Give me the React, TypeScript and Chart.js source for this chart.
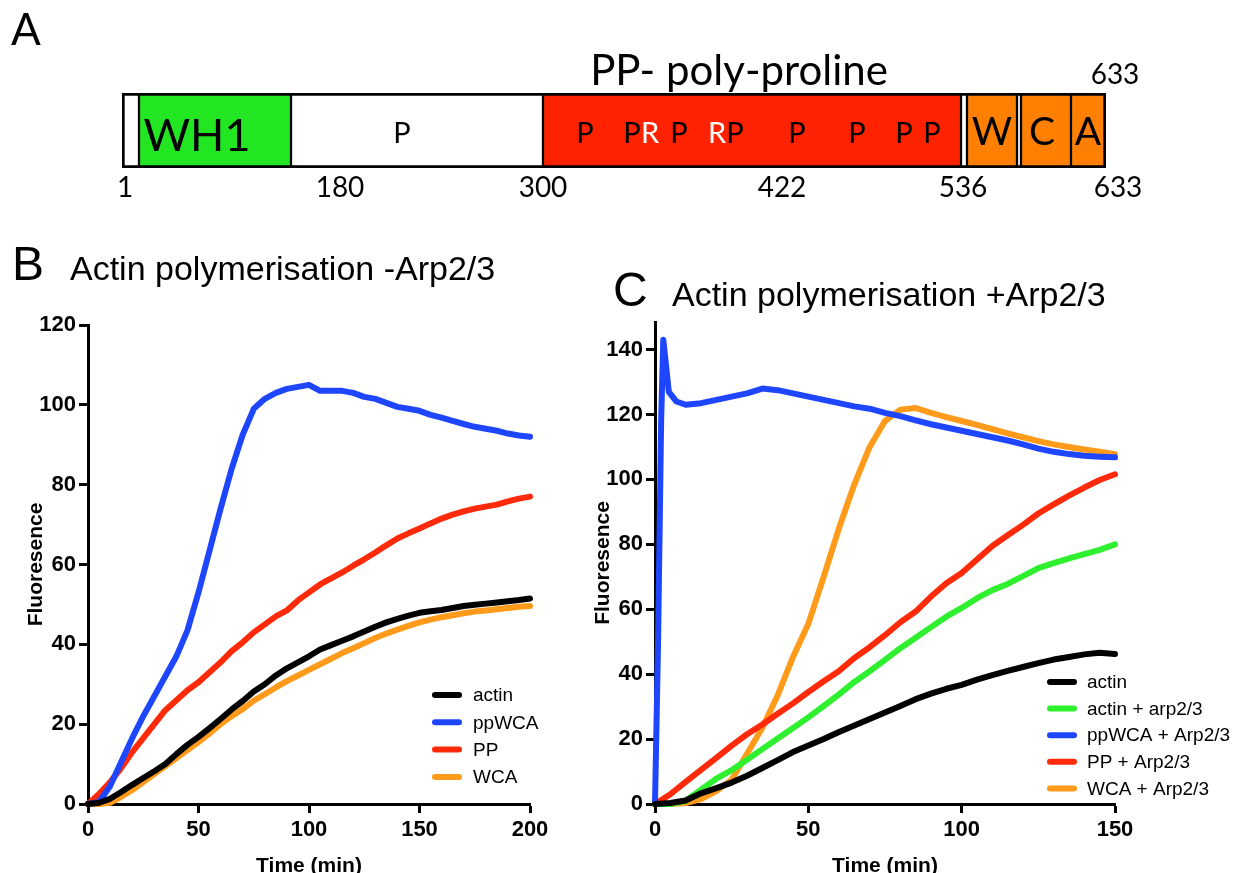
import React, { useEffect, useRef } from "react";
import { Chart, registerables } from "chart.js";
Chart.register(...registerables);

// ---------------- Panel A: domain schematic (schematic units along the bar) ----------------
const domainStart = [0, 17, 169, 421, 839, 845, 895, 899, 949];
const domainEnd = [17, 169, 421, 839, 845, 895, 899, 949, 984];
const domainFill = ["#ffffff", "#22e622", "#ffffff", "#ff2200", "#ffffff", "#ff8000", "#ffffff", "#ff8000", "#ff8000"];
const domainNames = ["WH1", "W", "C", "A"];
const domainNamePos = [75, 870, 920, 966];
const motifLetters = ["P", "P", "P", "R", "P", "R", "P", "P", "P", "P", "P"];
const motifPos = [280, 463, 510, 528, 557, 595, 613, 675, 735, 782, 810];
const residueLabels = ["1", "180", "300", "422", "536", "633"];
const residuePos = [3, 218, 421, 660, 841, 996];
const regionTitle = "PP- poly-proline";
const regionTitlePos = 617;
const endLabel = "633";
const endLabelPos = 993;

// ---------------- Panel B: Actin polymerisation -Arp2/3 ----------------
const timeB = [0, 5, 10, 15, 20, 25, 30, 35, 40, 45, 50, 55, 60, 65, 70, 75, 80, 85, 90, 95, 100, 105, 110, 115, 120, 125, 130, 135, 140, 145, 150, 155, 160, 165, 170, 175, 180, 185, 190, 195, 200];
const actinB = [0, 0.3, 1.3, 3, 4.8, 6.5, 8.2, 10, 12.5, 14.8, 16.8, 19, 21.3, 23.7, 25.8, 28.2, 30, 32.2, 34, 35.5, 37, 38.7, 39.8, 40.9, 42, 43.2, 44.4, 45.5, 46.4, 47.2, 47.9, 48.3, 48.6, 49.1, 49.6, 49.9, 50.2, 50.5, 50.8, 51.1, 51.5];
const ppWCAB = [0, 0.5, 4.5, 10.5, 16.5, 22, 27, 32, 37, 43.5, 53, 63.5, 74, 84, 92.5, 99, 101.5, 103, 104, 104.5, 105, 103.5, 103.5, 103.5, 103, 102, 101.5, 100.5, 99.5, 99, 98.5, 97.5, 96.8, 96, 95.2, 94.5, 94, 93.5, 92.8, 92.3, 92];
const ppB = [0, 2.5, 5.5, 9, 13, 16.5, 20, 23.5, 26, 28.5, 30.5, 33, 35.5, 38.3, 40.5, 43, 45, 47, 48.5, 51, 53, 55, 56.5, 58, 59.7, 61.3, 63, 64.8, 66.5, 67.8, 69, 70.3, 71.5, 72.5, 73.3, 74, 74.5, 75, 75.8, 76.5, 77];
const wcaB = [0, 0, 0.3, 1.8, 3.5, 5.5, 7.5, 9.5, 11.5, 13.5, 15.5, 17.7, 20, 22, 23.8, 25.9, 27.5, 29.2, 30.8, 32.2, 33.6, 35, 36.4, 37.8, 39, 40.3, 41.6, 42.7, 43.7, 44.6, 45.5, 46.2, 46.8, 47.3, 47.8, 48.2, 48.5, 48.8, 49.1, 49.4, 49.6];
const namesB = ["actin", "ppWCA", "PP", "WCA"];

// ---------------- Panel C: Actin polymerisation +Arp2/3 ----------------
const timeC = [0, 5, 10, 15, 20, 25, 30, 35, 40, 45, 50, 55, 60, 65, 70, 75, 80, 85, 90, 95, 100, 105, 110, 115, 120, 125, 130, 135, 140, 145, 150];
const actinC = [0, 0.3, 1.1, 3.3, 4.9, 6.6, 8.7, 11.1, 13.5, 16, 18, 20, 22.2, 24.2, 26.2, 28.2, 30.2, 32.3, 34, 35.5, 36.7, 38.3, 39.7, 41, 42.2, 43.4, 44.5, 45.3, 46.1, 46.6, 46.2];
const actinArpC = [0, 0, 1, 4.4, 7.8, 10.4, 13.6, 16.9, 20.2, 23.4, 26.7, 30.2, 33.8, 37.6, 40.9, 44.4, 48, 51.2, 54.5, 57.7, 60.4, 63.4, 65.9, 67.8, 70.2, 72.7, 74.2, 75.7, 77, 78.3, 80];
const timeBlueC = [0, 1, 2, 2.7, 3.5, 4.5, 7, 10, 15, 20, 25, 30, 35, 40, 45, 50, 55, 60, 65, 70, 75, 80, 85, 90, 95, 100, 105, 110, 115, 120, 125, 130, 135, 140, 145, 150];
const ppWCAArpC = [0, 50, 118, 143, 136, 127, 124, 123, 123.5, 124.5, 125.5, 126.5, 128, 127.5, 126.5, 125.5, 124.5, 123.5, 122.5, 121.8, 120.5, 119.5, 118.2, 117, 116, 115, 114, 113, 112, 110.8, 109.5, 108.5, 107.8, 107.3, 107, 106.8];
const ppArpC = [0, 3, 6.8, 10.5, 14.2, 18, 21.5, 24.5, 27.8, 31, 34.5, 37.8, 41, 45, 48.3, 52, 56, 59.3, 63.9, 68, 71.2, 75.3, 79.5, 82.8, 86, 89.5, 92.3, 95, 97.5, 99.8, 101.6];
const wcaArpC = [0, 0, 0.3, 1.5, 4, 7.5, 15.5, 23.5, 33.5, 45.3, 55.5, 70, 85, 98.5, 110, 118, 121.5, 122, 120.5, 119.2, 118, 116.8, 115.5, 114.2, 113, 111.8, 110.8, 110, 109.2, 108.5, 107.8];
const namesC = ["actin", "actin + arp2/3", "ppWCA + Arp2/3", "PP + Arp2/3", "WCA + Arp2/3"];

const BLACK = "#000000";
const BLUE = "#1e46ff";
const RED = "#ff2a0a";
const ORANGE = "#ff9a1a";
const GREEN = "#2ef02e";

const ARIAL = "'Liberation Sans', Arial, sans-serif";
const CAL = "Lato, 'Open Sans', sans-serif";

const pts = (xs: number[], ys: number[]) => xs.map((x, i) => ({ x, y: ys[i] }));

function lineDs(label: string, data: any[], color: string) {
  return {
    label,
    data,
    borderColor: color,
    backgroundColor: color,
    borderWidth: 6,
    pointRadius: 0,
    tension: 0,
    borderJoinStyle: "round",
    borderCapStyle: "round",
    clip: false,
    fill: false,
  };
}

function legendPlugin(names: string[], colors: string[], dx: number, dyFirst: number, spacing: number, textGap: number) {
  return {
    id: "customLegend",
    afterDraw(chart: any) {
      const { ctx, chartArea } = chart;
      ctx.save();
      ctx.font = `19px ${ARIAL}`;
      ctx.textBaseline = "middle";
      ctx.textAlign = "left";
      names.forEach((n, i) => {
        const y = chartArea.bottom - dyFirst + i * spacing;
        const x = chartArea.right - dx;
        ctx.strokeStyle = colors[i];
        ctx.lineWidth = 6;
        ctx.lineCap = "round";
        ctx.beginPath();
        ctx.moveTo(x + 3, y);
        ctx.lineTo(x + 27, y);
        ctx.stroke();
        ctx.fillStyle = "#000";
        ctx.fillText(n, x + textGap, y + 1);
      });
      ctx.restore();
    },
  };
}

function headerPlugin(letter: string, title: string, letterX: number, titleX: number, baseY: number) {
  return {
    id: "panelHeader",
    afterDraw(chart: any) {
      const { ctx } = chart;
      ctx.save();
      ctx.fillStyle = "#000";
      ctx.textBaseline = "alphabetic";
      ctx.textAlign = "left";
      ctx.font = `48px ${ARIAL}`;
      ctx.fillText(letter, letterX, baseY);
      ctx.font = `34px ${ARIAL}`;
      ctx.fillText(title, titleX, baseY);
      ctx.restore();
    },
  };
}

function lineOptions(xMax: number, yMax: number, yWidth: number, padTop: number, padRight: number, yTitlePad: number) {
  const tickFont = { family: ARIAL, size: 22, weight: "bold" as const };
  const titleFont = { family: ARIAL, size: 21, weight: "bold" as const };
  const grid = { drawOnChartArea: false, drawTicks: true, tickLength: 9, tickWidth: 3, tickColor: "#000" };
  const border = { display: true, color: "#000", width: 3 };
  return {
    responsive: false,
    animation: false as const,
    devicePixelRatio: 1,
    layout: { padding: { top: padTop, right: padRight, left: 0, bottom: 0 } },
    plugins: { legend: { display: false }, tooltip: { enabled: false } },
    scales: {
      x: {
        type: "linear" as const,
        min: 0,
        max: xMax,
        ticks: { stepSize: 50, color: "#000", font: tickFont, padding: 4, maxRotation: 0 },
        grid,
        border,
        title: { display: true, text: "Time (min)", color: "#000", font: titleFont, padding: { top: 0, bottom: 11 } },
        afterFit: (s: any) => {
          s.height = 86;
        },
      },
      y: {
        type: "linear" as const,
        min: 0,
        max: yMax,
        ticks: { stepSize: 20, includeBounds: false, color: "#000", font: tickFont, padding: 3 },
        grid,
        border,
        title: { display: true, text: "Fluoresence", color: "#000", font: titleFont, padding: { top: yTitlePad, bottom: 0 } },
        afterFit: (s: any) => {
          s.width = yWidth;
        },
      },
    },
  };
}

const domainTextPlugin = {
  id: "domainText",
  afterDatasetsDraw(chart: any) {
    const { ctx, chartArea, scales } = chart;
    const px = (v: number) => scales.x.getPixelForValue(v);
    const top = chartArea.top;
    const bottom = chartArea.bottom;
    ctx.save();
    ctx.textAlign = "center";
    ctx.textBaseline = "alphabetic";
    ctx.fillStyle = "#000";
    domainNames.forEach((n, i) => {
      const big = n.length > 1;
      ctx.font = `${big ? 45 : 39}px ${CAL}`;
      ctx.fillText(n, px(domainNamePos[i]), top + (big ? 58 : 52));
    });
    ctx.font = `29px ${CAL}`;
    motifLetters.forEach((m, i) => {
      ctx.fillStyle = m === "R" ? "#ffffff" : "#000";
      ctx.fillText(m, px(motifPos[i]), top + 50);
    });
    ctx.fillStyle = "#000";
    ctx.font = `28px ${CAL}`;
    residueLabels.forEach((r, i) => {
      ctx.fillText(r, px(residuePos[i]), bottom + 29);
    });
    ctx.fillText(endLabel, px(endLabelPos), top - 9);
    ctx.font = `42px ${CAL}`;
    ctx.fillText(regionTitle, px(regionTitlePos), top - 8);
    ctx.textAlign = "left";
    ctx.font = `44px ${CAL}`;
    ctx.fillText("A", 11, 45);
    ctx.restore();
  },
};

export default function App() {
  const refA = useRef<HTMLCanvasElement>(null);
  const refB = useRef<HTMLCanvasElement>(null);
  const refC = useRef<HTMLCanvasElement>(null);

  useEffect(() => {
    const last = domainStart.length - 1;
    const chartA = new Chart(refA.current as HTMLCanvasElement, {
      type: "bar",
      data: {
        labels: ["WASP"],
        datasets: domainStart.map((s, i) => ({
          data: [[s, domainEnd[i]]],
          backgroundColor: domainFill[i],
          borderColor: "#000",
          borderWidth: { top: 3, bottom: 3, left: i === 0 ? 3 : 1.5, right: i === last ? 3 : 1.5 },
          borderSkipped: false,
          barPercentage: 1,
          categoryPercentage: 1,
          grouped: false,
        })) as any,
      },
      options: {
        indexAxis: "y",
        responsive: false,
        animation: false,
        devicePixelRatio: 1,
        layout: { padding: { left: 122, right: 137, top: 93, bottom: 42 } },
        scales: {
          x: { type: "linear", min: 0, max: 984, display: false },
          y: { display: false },
        },
        plugins: { legend: { display: false }, tooltip: { enabled: false } },
      } as any,
      plugins: [domainTextPlugin],
    });

    const chartB = new Chart(refB.current as HTMLCanvasElement, {
      type: "line",
      data: {
        datasets: [
          lineDs(namesB[0], pts(timeB, actinB), BLACK),
          lineDs(namesB[1], pts(timeB, ppWCAB), BLUE),
          lineDs(namesB[2], pts(timeB, ppB), RED),
          lineDs(namesB[3], pts(timeB, wcaB), ORANGE),
        ] as any,
      },
      options: lineOptions(200, 120, 88, 95, 45, 23.4) as any,
      plugins: [
        legendPlugin(namesB, [BLACK, BLUE, RED, ORANGE], 98, 109, 27.3, 41),
        headerPlugin("B", "Actin polymerisation -Arp2/3", 12, 70, 50),
      ],
    });

    const chartC = new Chart(refC.current as HTMLCanvasElement, {
      type: "line",
      data: {
        datasets: [
          lineDs(namesC[0], pts(timeC, actinC), BLACK),
          lineDs(namesC[1], pts(timeC, actinArpC), GREEN),
          lineDs(namesC[2], pts(timeBlueC, ppWCAArpC), BLUE),
          lineDs(namesC[3], pts(timeC, ppArpC), RED),
          lineDs(namesC[4], pts(timeC, wcaArpC), ORANGE),
        ] as any,
      },
      options: lineOptions(150, 148.5, 75, 92, 128, 10.4) as any,
      plugins: [
        legendPlugin(namesC, [BLACK, GREEN, BLUE, RED, ORANGE], 68, 122, 26.6, 40),
        headerPlugin("C", "Actin polymerisation +Arp2/3", 33, 92, 76),
      ],
    });

    return () => {
      chartA.destroy();
      chartB.destroy();
      chartC.destroy();
    };
  }, []);

  return (
    <div style={{ position: "absolute", left: 0, top: 0, width: 1243, height: 873, overflow: "hidden", background: "#fff" }}>
      <canvas ref={refA} width={1243} height={210} style={{ position: "absolute", left: 0, top: 0 }} />
      <canvas ref={refB} width={575} height={660} style={{ position: "absolute", left: 0, top: 230 }} />
      <canvas ref={refC} width={663} height={660} style={{ position: "absolute", left: 580, top: 230 }} />
    </div>
  );
}
